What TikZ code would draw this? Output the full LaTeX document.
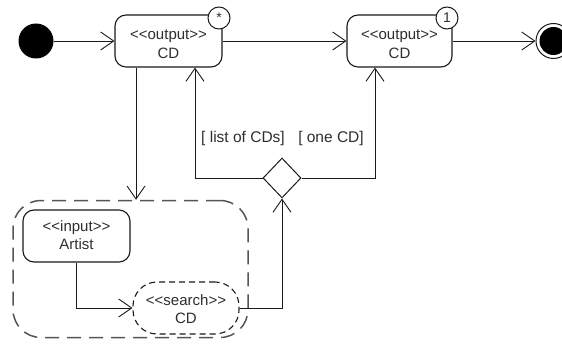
\documentclass[tikz,border=0pt]{standalone}
\usepackage{fontspec}
\setmainfont{Liberation Sans}[Ligatures=TeXOff]
\usetikzlibrary{arrows.meta,shapes.geometric}
\definecolor{ink}{HTML}{1A1A1A}
\definecolor{txt}{HTML}{2E2E2E}
\definecolor{zonegray}{HTML}{555555}
\tikzset{
  flow/.style={draw=ink, line width=0.9pt,
    -{Straight Barb[length=13pt,width=18pt,line width=0.9pt]}},
  action/.style={draw=ink, line width=1.1pt, rounded corners=11pt, fill=white,
    minimum width=107pt, minimum height=52pt, inner sep=0pt, align=center,
    text=txt, font=\fontsize{15}{18.5}\selectfont},
  label/.style={text=txt, align=center, inner sep=0pt,
    font=\fontsize{15}{18.5}\selectfont},
  searchbox/.style={action, rounded corners=24pt, dash pattern=on 6pt off 4pt},
  zonebox/.style={draw=zonegray, line width=1.5pt, rounded corners=28pt,
    dash pattern=on 14pt off 8pt, minimum width=235pt, minimum height=137pt,
    inner sep=0pt},
  mult/.style={circle, draw=ink, line width=1pt, fill=white, minimum size=22pt,
    inner sep=0pt, text=txt, font=\fontsize{14}{14}\selectfont},
  guard/.style={text=txt, font=\fontsize{15.5}{18}\selectfont, inner sep=0pt},
  decision/.style={diamond, draw=ink, line width=1pt, fill=white,
    minimum width=38pt, minimum height=40pt, inner sep=0pt},
}
\begin{document}
\begin{tikzpicture}[x=1pt, y=-1pt]
\useasboundingbox (0,0) rectangle (562,345);

% initial and final nodes
\node[circle, fill=black, minimum size=35pt, inner sep=0pt] (start) at (36,41) {};
\node[circle, draw=ink, line width=1pt, fill=white, minimum size=35pt, inner sep=0pt] (final) at (553.5,41) {};
\node[circle, fill=black, minimum size=28pt, inner sep=0pt] (finaldot) at (final) {};

% output actions (frames, then their text slightly below centre)
\node[action] (out1) at (168.5,41) {};
\node[label] (t1) at (168.5,44) {<<output>>\\CD};
\node[action, minimum width=105pt] (out2) at (399.5,41) {};
\node[label] (t2) at (399.5,44) {<<output>>\\CD};
\node[mult] (m1) at (219,18) {*};
\node[mult] (m2) at (447,18) {1};

% interruptible region with input and search
\node[zonebox] (zone) at (130.5,269) {};
\node[action] (artist) at (76.5,236) {};
\node[label] (t3) at (76.5,235) {<<input>>\\Artist};
\node[searchbox, minimum width=106pt] (search) at (186,308) {};
\node[label] (t4) at (186,309) {<<search>>\\CD};

% decision
\node[decision] (dia) at (282,178) {};
\node[guard] (g1) at (243,138) {[ list of CDs]};
\node[guard] (g2) at (331,138) {[ one CD]};

% helper columns for vertical connectors
\coordinate (c1) at (136,0);
\coordinate (c2) at (195,0);
\coordinate (c3) at (375,0);

% connectors
\draw[flow] (start.east) -- (out1.west);
\draw[flow] (out1.east) -- (out2.west);
\draw[flow] (out2.east) -- (final.west);
\draw[flow] (out1.south -| c1) -- (zone.north -| c1);
\draw[flow] (artist.south) |- (search.west);
\draw[flow] (search.east) -| (dia.south);
\draw[flow] (dia.west) -| (out1.south -| c2);
\draw[flow] (dia.east) -| (out2.south -| c3);
\end{tikzpicture}
\end{document}
